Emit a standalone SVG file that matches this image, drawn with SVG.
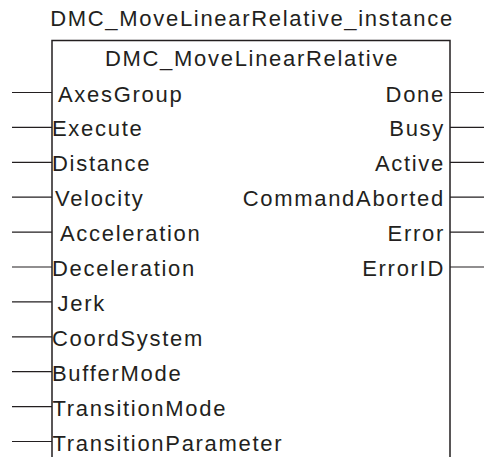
<svg xmlns="http://www.w3.org/2000/svg" width="484" height="457" viewBox="0 0 484 457">
<style>
  text { font-family: "Liberation Sans", Arial, sans-serif; font-size: 22px; letter-spacing: 1.7px; fill: #231f20; }
  .mid { text-anchor: middle; }
  .end { text-anchor: end; }
  .box { fill: none; stroke: #231f20; stroke-width: 1.5; }
  .pin { stroke: #231f20; stroke-width: 1.2; fill: none; }
</style>
<rect width="484" height="457" fill="#ffffff"/>
<g id="instance-label">
  <text class="mid" x="252" y="25.7">DMC_MoveLinearRelative_instance</text>
</g>
<g id="connectors">
  <path class="pin" d="M12,92.5H52 M12,127.4H52 M12,162.3H52 M12,197.2H52 M12,232.1H52 M12,267H52 M12,301.9H52 M12,336.8H52 M12,371.7H52 M12,406.6H52 M12,441.5H52"/>
  <path class="pin" d="M450,92.5H484 M450,127.4H484 M450,162.3H484 M450,197.2H484 M450,232.1H484 M450,267H484"/>
</g>
<g id="fb-DMC_MoveLinearRelative">
  <path class="box" d="M52,460V40.5H450V460"/>
  <text class="mid" x="252" y="65.7">DMC_MoveLinearRelative</text>
  <g id="inputs">
    <text x="58" y="101.5">AxesGroup</text>
    <text x="52" y="136.4">Execute</text>
    <text x="52" y="171.3">Distance</text>
    <text x="55" y="206.2">Velocity</text>
    <text x="60" y="241.1">Acceleration</text>
    <text x="52" y="276">Deceleration</text>
    <text x="57.5" y="310.9">Jerk</text>
    <text x="52" y="345.8">CoordSystem</text>
    <text x="52" y="380.7">BufferMode</text>
    <text x="52.5" y="415.6">TransitionMode</text>
    <text x="52.5" y="450.5">TransitionParameter</text>
  </g>
  <g id="outputs">
    <text class="end" x="445" y="101.5">Done</text>
    <text class="end" x="445" y="136.4">Busy</text>
    <text class="end" x="445" y="171.3">Active</text>
    <text class="end" x="445" y="206.2">CommandAborted</text>
    <text class="end" x="445" y="241.1">Error</text>
    <text class="end" x="445" y="276">ErrorID</text>
  </g>
</g>
</svg>
